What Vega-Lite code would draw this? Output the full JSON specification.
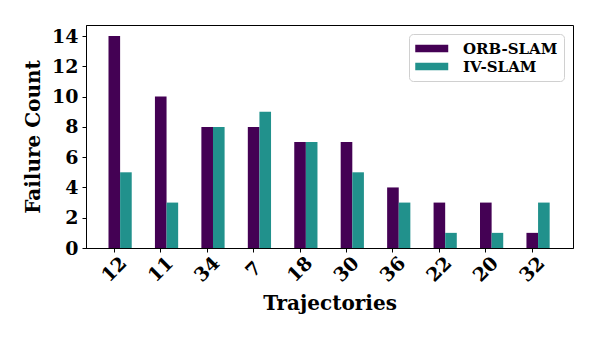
{
  "$schema": "https://vega.github.io/schema/vega-lite/v6.json",
  "width": 487,
  "height": 223,
  "autosize": {"type": "none"},
  "padding": {"left": 86, "top": 25, "right": 25, "bottom": 94},
  "config": {
    "font": "DejaVu Serif",
    "view": {"stroke": "black", "strokeWidth": 1}
  },
  "data": {
    "values": [
      {"trajectory": "12", "method": "ORB-SLAM", "failures": 14},
      {"trajectory": "12", "method": "IV-SLAM", "failures": 5},
      {"trajectory": "11", "method": "ORB-SLAM", "failures": 10},
      {"trajectory": "11", "method": "IV-SLAM", "failures": 3},
      {"trajectory": "34", "method": "ORB-SLAM", "failures": 8},
      {"trajectory": "34", "method": "IV-SLAM", "failures": 8},
      {"trajectory": "7", "method": "ORB-SLAM", "failures": 8},
      {"trajectory": "7", "method": "IV-SLAM", "failures": 9},
      {"trajectory": "18", "method": "ORB-SLAM", "failures": 7},
      {"trajectory": "18", "method": "IV-SLAM", "failures": 7},
      {"trajectory": "30", "method": "ORB-SLAM", "failures": 7},
      {"trajectory": "30", "method": "IV-SLAM", "failures": 5},
      {"trajectory": "36", "method": "ORB-SLAM", "failures": 4},
      {"trajectory": "36", "method": "IV-SLAM", "failures": 3},
      {"trajectory": "22", "method": "ORB-SLAM", "failures": 3},
      {"trajectory": "22", "method": "IV-SLAM", "failures": 1},
      {"trajectory": "20", "method": "ORB-SLAM", "failures": 3},
      {"trajectory": "20", "method": "IV-SLAM", "failures": 1},
      {"trajectory": "32", "method": "ORB-SLAM", "failures": 1},
      {"trajectory": "32", "method": "IV-SLAM", "failures": 3}
    ]
  },
  "mark": {"type": "bar"},
  "encoding": {
    "x": {
      "field": "trajectory",
      "type": "nominal",
      "scale": {
        "domain": ["12", "11", "34", "7", "18", "30", "36", "22", "20", "32"],
        "paddingInner": 0,
        "paddingOuter": 0.2435,
        "align": 0.225
      },
      "axis": {
        "title": "Trajectories",
        "titleFontSize": 20,
        "titleFontWeight": "bold",
        "titleColor": "black",
        "titlePadding": 8,
        "labelAngle": -45,
        "labelAlign": "center",
        "labelBaseline": "middle",
        "labelPadding": 17,
        "labelFontSize": 19,
        "labelFontWeight": "bold",
        "labelColor": "black",
        "labelOverlap": false,
        "labelFlush": false,
        "tickSize": 4,
        "tickColor": "black",
        "domainColor": "black"
      }
    },
    "xOffset": {
      "field": "method",
      "scale": {
        "domain": ["ORB-SLAM", "IV-SLAM"],
        "paddingInner": 0,
        "paddingOuter": 1,
        "align": 0.75
      }
    },
    "y": {
      "field": "failures",
      "type": "quantitative",
      "scale": {"domain": [0, 14.73], "nice": false},
      "axis": {
        "values": [0, 2, 4, 6, 8, 10, 12, 14],
        "grid": false,
        "title": "Failure Count",
        "titleFontSize": 20,
        "titleFontWeight": "bold",
        "titleColor": "black",
        "titlePadding": 8,
        "labelFontSize": 19,
        "labelFontWeight": "bold",
        "labelColor": "black",
        "labelPadding": 4,
        "labelFlush": false,
        "tickSize": 4,
        "tickColor": "black",
        "domainColor": "black"
      }
    },
    "color": {
      "field": "method",
      "type": "nominal",
      "scale": {"domain": ["ORB-SLAM", "IV-SLAM"], "range": ["#440154", "#21918c"]},
      "legend": {
        "title": null,
        "orient": "top-right",
        "offset": 9,
        "padding": 6,
        "fillColor": "white",
        "strokeColor": "#d0d0d0",
        "cornerRadius": 4,
        "symbolType": "M-1,-0.44H3V0.44H-1Z",
        "symbolSize": 272,
        "symbolStrokeWidth": 0,
        "labelFontSize": 15,
        "labelFontWeight": "bold",
        "labelColor": "black",
        "labelOffset": 31,
        "rowPadding": 1
      }
    }
  }
}
